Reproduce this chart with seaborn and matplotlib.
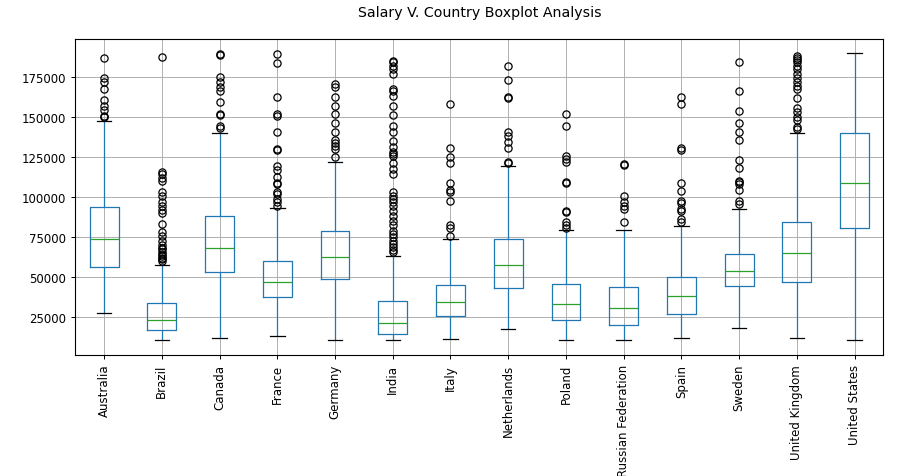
import numpy as np
import pandas as pd
import seaborn as sns
import matplotlib
matplotlib.use("Agg")
import matplotlib.pyplot as plt

# salary summary per country
countries = ["Australia", "Brazil", "Canada", "France", "Germany", "India", "Italy",
             "Netherlands", "Poland", "Russian Federation", "Spain", "Sweden",
             "United Kingdom", "United States"]

whisker_low = [27100, 10200, 11900, 13100, 10800, 10200, 11250,
               17100, 10800, 10800, 11900, 17700, 11500, 10200]
q1 = [56000, 16500, 52900, 37300, 48750, 14400, 25200,
      43000, 22700, 19800, 26900, 44400, 46700, 80400]
median = [73500, 23300, 68300, 46700, 62500, 21250, 34000,
          57100, 32900, 30400, 38300, 53500, 65200, 108500]
q3 = [93500, 33500, 88300, 60200, 78500, 34600, 45000,
      73500, 45600, 43500, 49800, 64000, 84200, 140000]
whisker_high = [147500, 57700, 140200, 93100, 121700, 63100, 73750,
                119000, 79400, 79000, 81500, 92300, 140200, 190000]

outliers = {
    "Australia": [187100, 174200, 171700, 167500, 160800, 156700, 154200, 150800, 150000],
    "Brazil": [187500, 115800, 114400, 112000, 110200, 102900, 100800, 96700, 94600,
               91500, 90000, 83100, 77900, 75800, 72700, 70000, 68000, 67500, 65400,
               64000, 63300, 62000, 61250, 60000],
    "Canada": [189400, 188800, 174800, 171700, 168500, 166500, 159200, 151900, 151300,
               144200, 143300],
    "France": [189400, 183750, 162300, 151900, 150400, 140800, 130000, 129500, 119200,
               117000, 112300, 108750, 108000, 102900, 102000, 98750, 96700, 94600],
    "Germany": [170600, 168500, 162300, 157100, 151900, 146250, 140800, 135800, 134000,
                132100, 130000, 124800],
    "India": [185200, 184200, 182100, 180000, 176900, 167500, 166500, 163300, 156700,
              151250, 144200, 140400, 135200, 131000, 127900, 126900, 125800, 121250,
              117500, 114400, 102900, 100800, 98750, 96700, 94600, 91460, 88300, 85200,
              82100, 78960, 76900, 74800, 72700, 70600, 68500, 67000, 65600],
    "Italy": [158100, 130400, 124800, 121250, 108500, 104400, 102900, 97300, 82100,
              80700, 75800],
    "Netherlands": [181700, 173300, 162300, 161700, 140800, 137900, 134200, 130400,
                    122100, 121250],
    "Poland": [152100, 144400, 125600, 124000, 122100, 109600, 108750, 91460, 90600,
               84200, 82100, 80700],
    "Russian Federation": [120600, 119800, 100800, 96700, 94600, 92500, 84200],
    "Spain": [162300, 158100, 130400, 129600, 108500, 103960, 97300, 95900, 92500,
              91000, 86250, 84200],
    "Sweden": [184600, 166500, 154000, 146250, 140400, 135400, 123300, 118100, 110200,
               109200, 108300, 104400, 97700, 95600],
    "United Kingdom": [188300, 187100, 185800, 184200, 181700, 180000, 176900, 174200,
                       171700, 169200, 167500, 161700, 155400, 152900, 149800, 148300,
                       143500, 142500],
    "United States": [],
}

# expand each summary into a sample whose quartiles/whiskers match,
# so seaborn computes the boxes itself
rows = []
for i, c in enumerate(countries):
    vals = [whisker_low[i]] + [q1[i]] * 100 + [median[i]] * 100 + [q3[i]] * 100 \
        + [whisker_high[i]] + outliers[c]
    rows += [(c, v) for v in vals]
df = pd.DataFrame(rows, columns=["Country", "Salary"])

fig, ax = plt.subplots(figsize=(9.07, 4.77), dpi=100)
fig.subplots_adjust(left=0.083, right=0.974, top=0.917, bottom=0.254)

lw = 0.9
sns.boxplot(data=df, x="Country", y="Salary", order=countries, ax=ax,
            fill=False, width=0.5, whis=1.5, linewidth=lw,
            boxprops={"color": "#1f77b4", "linewidth": lw},
            whiskerprops={"color": "#1f77b4", "linewidth": lw},
            medianprops={"color": "#2ca02c", "linewidth": lw},
            capprops={"color": "black", "linewidth": lw},
            flierprops={"marker": "o", "markerfacecolor": "none",
                        "markeredgecolor": "black", "markersize": 5.2,
                        "markeredgewidth": 0.9},
            capwidths=0.25)

ax.grid(True, color="#b0b0b0", linewidth=0.7)
ax.set_axisbelow(True)
ax.set_yticks([25000, 50000, 75000, 100000, 125000, 150000, 175000])
ax.tick_params(axis="x", labelrotation=90)
ax.tick_params(labelsize=8.5, width=0.7, length=3)
for s in ax.spines.values():
    s.set_linewidth(0.8)
ax.set_xlabel("")
ax.set_ylabel("")
ax.set_title("Salary V. Country Boxplot Analysis", fontsize=10.2, pad=16)

plt.savefig("out.png", dpi=100)
